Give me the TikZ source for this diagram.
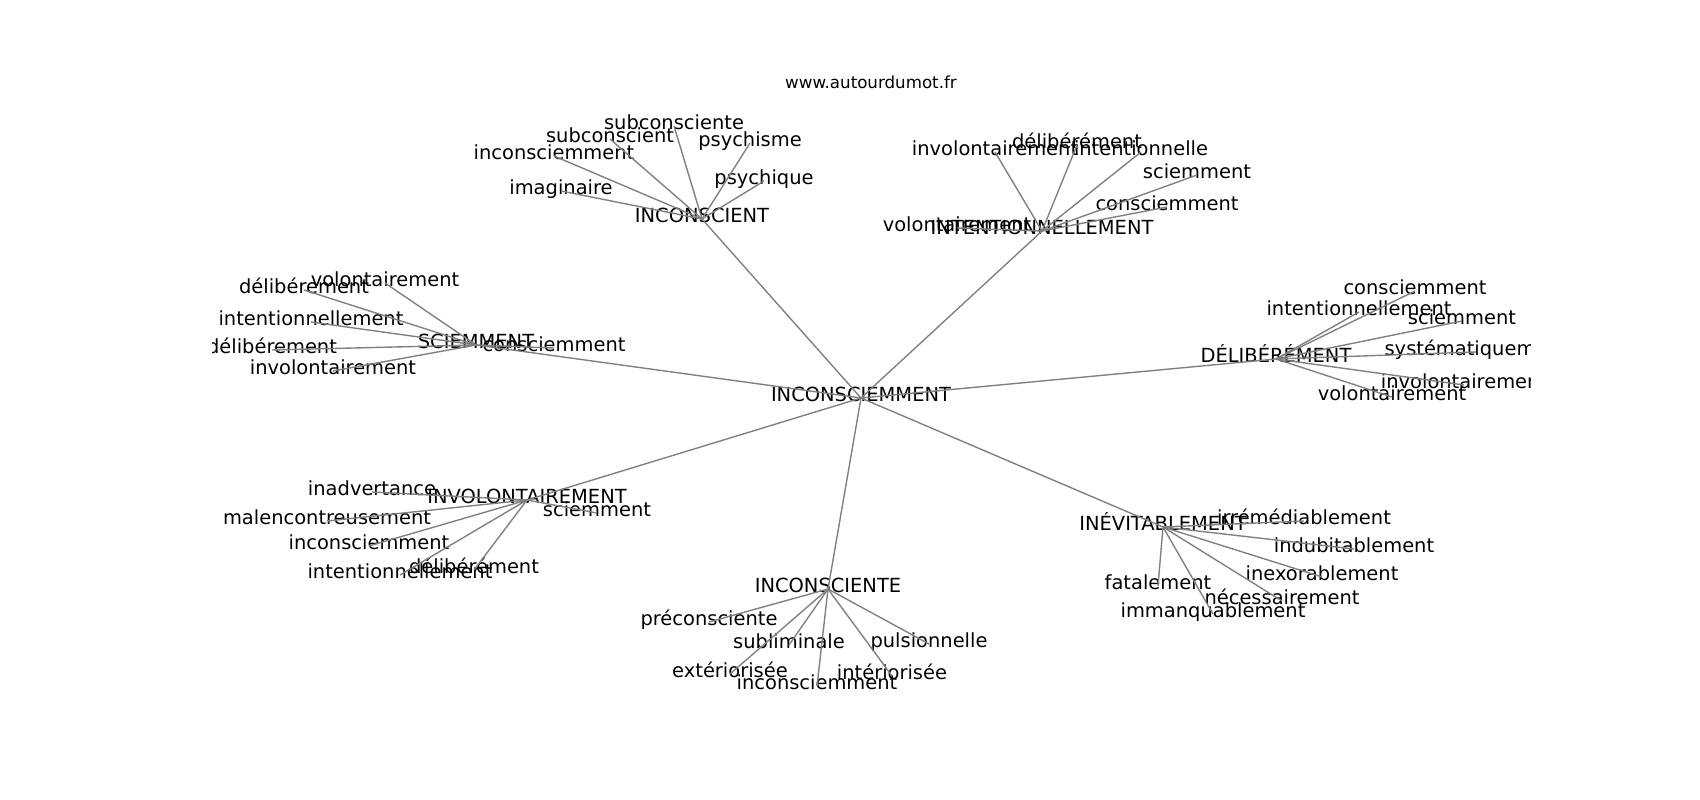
\documentclass[tikz,border=0pt]{standalone}
\usepackage{fontspec}
\setmainfont{DejaVu Sans}
\begin{document}
\begin{tikzpicture}[x=0.01in,y=-0.01in,
  lbl/.style={font=\fontsize{14bp}{16bp}\selectfont, inner sep=0pt, text height=0.76em, text depth=0.24em, anchor=center},
  ttl/.style={font=\fontsize{12bp}{14bp}\selectfont, inner sep=0pt, text height=0.76em, text depth=0.24em, anchor=center},
  edge/.style={draw=black!50, line width=1bp}]
\useasboundingbox (0,0) rectangle (1700,800);
\node[ttl] (title) at (871,85) {www.autourdumot.fr};
\begin{scope}
\clip (212.5,96) rectangle (1530,712);
\begin{scope}[shift={(0,3)}]
% centre
\node[lbl] (c) at (861,395) {INCONSCIEMMENT};
% INCONSCIENT
\node[lbl] (a) at (702,216) {INCONSCIENT};
\node[lbl] (a1) at (674,123) {subconsciente};
\node[lbl] (a2) at (610,136) {subconscient};
\node[lbl] (a3) at (750,140) {psychisme};
\node[lbl] (a4) at (554,153) {inconsciemment};
\node[lbl] (a5) at (764,178) {psychique};
\node[lbl] (a6) at (561,188) {imaginaire};
% INTENTIONNELLEMENT
\node[lbl] (b) at (1042,228) {INTENTIONNELLEMENT};
\node[lbl] (b1) at (995,149) {involontairement};
\node[lbl] (b2) at (1077,142) {délibérément};
\node[lbl] (b3) at (1141,149) {intentionnelle};
\node[lbl] (b4) at (1197,172) {sciemment};
\node[lbl] (b5) at (1167,204) {consciemment};
\node[lbl] (b6) at (957,225) {volontairement};
% SCIEMMENT
\node[lbl] (s) at (476,342) {SCIEMMENT};
\node[lbl] (s1) at (304,287) {délibérement};
\node[lbl] (s2) at (385,280) {volontairement};
\node[lbl] (s3) at (311,319) {intentionnellement};
\node[lbl] (s4) at (272,347) {délibérement};
\node[lbl] (s5) at (333,368) {involontairement};
\node[lbl] (s6) at (554,345) {consciemment};
% DÉLIBÉRÉMENT
\node[lbl] (d) at (1276,356) {DÉLIBÉRÉMENT};
\node[lbl] (d1) at (1415,288) {consciemment};
\node[lbl] (d2) at (1359,309) {intentionnellement};
\node[lbl] (d3) at (1462,318) {sciemment};
\node[lbl] (d4) at (1476,349) {systématiquement};
\node[lbl] (d5) at (1464,382) {involontairement};
\node[lbl] (d6) at (1392,394) {volontairement};
% INVOLONTAIREMENT
\node[lbl] (v) at (527,497) {INVOLONTAIREMENT};
\node[lbl] (v1) at (372,489) {inadvertance};
\node[lbl] (v2) at (597,510) {sciemment};
\node[lbl] (v3) at (327,518) {malencontreusement};
\node[lbl] (v4) at (369,543) {inconsciemment};
\node[lbl] (v5) at (400,572) {intentionnellement};
\node[lbl] (v6) at (474,567) {délibérément};
% INCONSCIENTE
\node[lbl] (e) at (828,586) {INCONSCIENTE};
\node[lbl] (e1) at (709,619) {préconsciente};
\node[lbl] (e2) at (789,642) {subliminale};
\node[lbl] (e3) at (929,641) {pulsionnelle};
\node[lbl] (e4) at (730,671) {extériorisée};
\node[lbl] (e5) at (892,673) {intériorisée};
\node[lbl] (e6) at (817,683) {inconsciemment};
% INÉVITABLEMENT
\node[lbl] (t) at (1163,524) {INÉVITABLEMENT};
\node[lbl] (t1) at (1304,518) {irrémédiablement};
\node[lbl] (t2) at (1354,546) {indubitablement};
\node[lbl] (t3) at (1322,574) {inexorablement};
\node[lbl] (t4) at (1158,583) {fatalement};
\node[lbl] (t5) at (1282,598) {nécessairement};
\node[lbl] (t6) at (1213,611) {immanquablement};
% edges
\foreach \h in {a,b,s,d,v,e,t} {
  \draw[edge] (c.center) -- (\h.center);
  \foreach \i in {1,...,6} { \draw[edge] (\h.center) -- (\h\i.center); }
}
\end{scope}
\end{scope}
\end{tikzpicture}
\end{document}
